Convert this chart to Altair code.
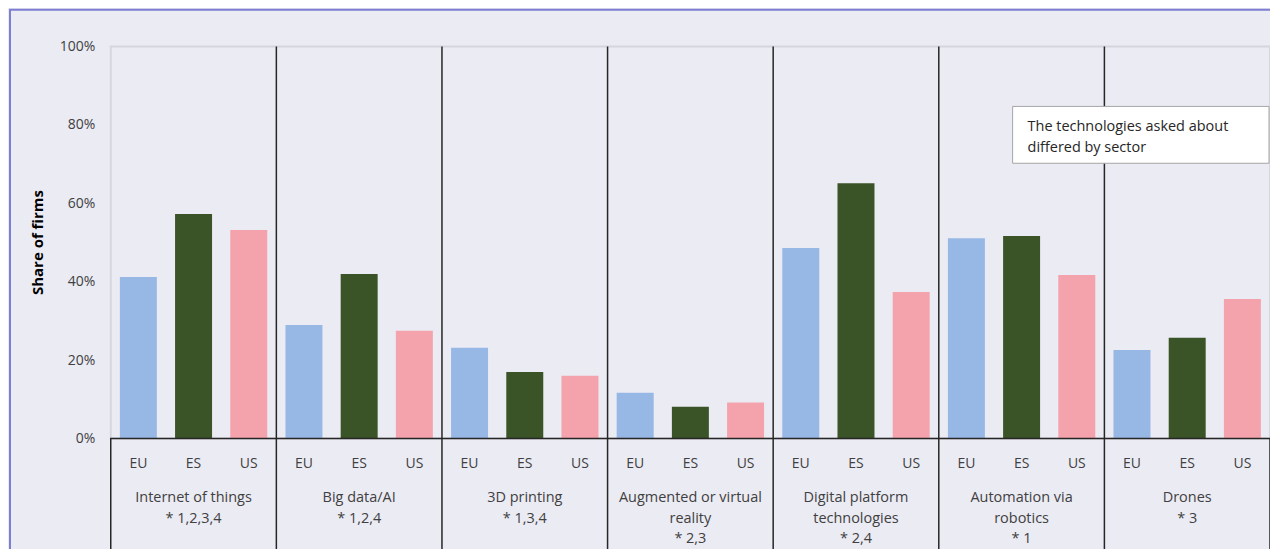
import altair as alt
import pandas as pd

groups = ["Internet of things", "Big data/AI", "3D printing", "Augmented or virtual reality",
          "Digital platform technologies", "Automation via robotics", "Drones"]
group_labels = ["Internet of things\n* 1,2,3,4", "Big data/AI\n* 1,2,4", "3D printing\n* 1,3,4",
                "Augmented or virtual\nreality\n* 2,3", "Digital platform\ntechnologies\n* 2,4",
                "Automation via\nrobotics\n* 1", "Drones\n* 3"]
countries = ["EU", "ES", "US"]
eu_values = [41.2, 29.0, 23.2, 11.7, 48.6, 51.1, 22.6]
es_values = [57.3, 42.0, 17.0, 8.1, 65.1, 51.7, 25.7]
us_values = [53.2, 27.5, 16.0, 9.2, 37.4, 41.7, 35.6]
colors = ["#97B7E4", "#3A5427", "#F4A3AC"]
y_ticks = [0, 20, 40, 60, 80, 100]
note = "The technologies asked about\ndiffered by sector"

rows = []
for i, g in enumerate(groups):
    for c, vals in zip(countries, [eu_values, es_values, us_values]):
        rows.append({"group": g, "country": c, "value": vals[i]})
df = pd.DataFrame(rows)
gdf = pd.DataFrame({"group": groups, "label": group_labels})
sep_df = pd.DataFrame({"group": groups[1:]})
one = pd.DataFrame({"a": [0]})

W, H = 1162, 503
FONT = "Open Sans"
ydom = [-28.0, 100]

xg = alt.X("group:N", sort=groups, scale=alt.Scale(paddingInner=0, paddingOuter=0), axis=None)
xo = alt.XOffset("country:N", sort=countries,
                 scale=alt.Scale(paddingInner=0.33, paddingOuter=0.165))
yscale = alt.Scale(domain=ydom, nice=False, zero=False)

bars = alt.Chart(df).mark_bar().encode(
    x=xg, xOffset=xo,
    y=alt.Y("value:Q", scale=yscale,
            axis=alt.Axis(values=y_ticks, labelExpr="datum.value + '%'", domain=False, ticks=False,
                          grid=False, labelPadding=16, labelFontSize=14, labelColor="#404040",
                          labelFont=FONT, title="Share of firms", titleFont=FONT, titleFontSize=15,
                          titleFontWeight="bold", titleColor="#000000", titleX=-73, titleY=196,
                          titleAngle=270, titleAlign="center", titleBaseline="middle")),
    y2=alt.datum(0),
    color=alt.Color("country:N", sort=countries,
                    scale=alt.Scale(domain=countries, range=colors), legend=None),
)

grey_frame = alt.Chart(one).mark_rect(fill=None, stroke="#D6D6DE", strokeWidth=2).encode(
    x=alt.value(0), x2=alt.value(W), y=alt.datum(100), y2=alt.datum(0)
)

black_box = alt.Chart(one).mark_rect(fill=None, stroke="#262626", strokeWidth=1.5).encode(
    x=alt.value(0), x2=alt.value(W), y=alt.datum(0), y2=alt.value(H + 5)
)

seps = alt.Chart(sep_df).mark_rule(color="#262626", strokeWidth=1.5).encode(
    x=alt.X("group:N", sort=groups, scale=alt.Scale(paddingInner=0, paddingOuter=0),
            axis=None, bandPosition=0),
    y=alt.datum(100), y2=alt.value(H + 5)
)

country_labels = alt.Chart(df).mark_text(fontSize=14, font=FONT, color="#404040",
                                         baseline="middle").encode(
    x=xg, xOffset=xo, y=alt.datum(-6.6), text="country:N"
)

grp_labels = alt.Chart(gdf).mark_text(fontSize=14.5, font=FONT, color="#404040", baseline="top",
                                      lineBreak="\n", lineHeight=20.5).encode(
    x=alt.X("group:N", sort=groups, scale=alt.Scale(paddingInner=0, paddingOuter=0),
            axis=None, bandPosition=0.5),
    y=alt.datum(-13.5), text="label:N"
)

note_box = alt.Chart(one).mark_rect(fill="white", stroke="#A6A6A6", strokeWidth=1).encode(
    x=alt.value(904), x2=alt.value(1161), y=alt.value(60), y2=alt.value(117)
)
note_text = alt.Chart(one).mark_text(fontSize=14.5, font=FONT, color="#262626", align="left",
                                     baseline="top", lineBreak="\n", lineHeight=21).encode(
    x=alt.value(919), y=alt.value(74), text=alt.value(note)
)

outer = alt.Chart(one).mark_rect(fill=None, stroke="#7E7ED2", strokeWidth=2).encode(
    x=alt.value(-101), x2=alt.value(W + 40), y=alt.value(-37), y2=alt.value(H + 40)
)

chart = alt.layer(grey_frame, bars, black_box, seps, country_labels, grp_labels,
                  note_box, note_text, outer).properties(
    width=W, height=H,
    autosize=alt.AutoSizeParams(type="none"),
    padding={"left": 103, "top": 38, "right": 0, "bottom": 0},
    background="#EBEBF4",
).configure_view(stroke=None)

chart.save("out.html", embed_options={"renderer": "svg", "actions": False})
